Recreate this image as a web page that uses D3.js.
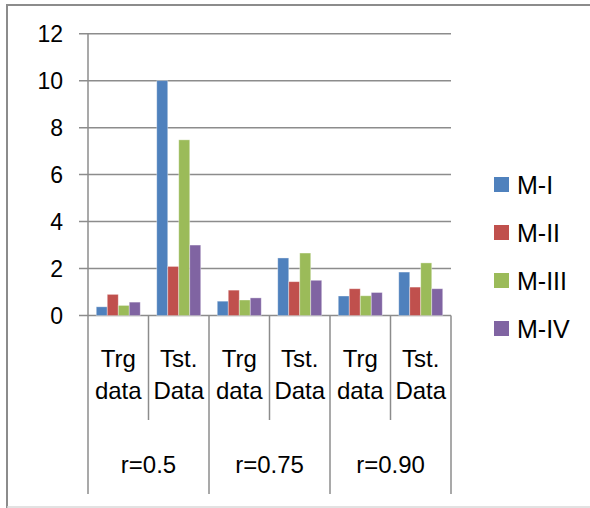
<!DOCTYPE html>
<html><head><meta charset="utf-8">
<script src="https://cdn.jsdelivr.net/npm/d3@7"></script>
<style>body{margin:0;background:#fff}svg{display:block}text{font-family:"Liberation Sans",Arial,sans-serif;fill:#000}</style>
</head><body><svg id="c" width="590" height="508"></svg>
<script>
const groups = ["r=0.5", "r=0.75", "r=0.90"];
const subs = ["Trg data", "Tst. Data"];
const series = ["M-I", "M-II", "M-III", "M-IV"];
const colors = ["#4F81BD", "#C0504D", "#9BBB59", "#8064A2"];
const mI   = [0.37, 10.0, 0.61, 2.45, 0.83, 1.85];
const mII  = [0.90, 2.09, 1.08, 1.44, 1.14, 1.21];
const mIII = [0.43, 7.48, 0.66, 2.66, 0.84, 2.24];
const mIV  = [0.57, 3.00, 0.75, 1.50, 0.98, 1.14];
const yTicks = [0, 2, 4, 6, 8, 10, 12];

(function () {
const values = [mI, mII, mIII, mIV];
const cats = [];
groups.forEach((g, gi) => subs.forEach((s, si) => cats.push({g, s, key: gi + "_" + si})));

const svg = d3.select("#c");
const pL = 88, pR = 451, pT = 33.7, pB = 315.5;
const x = d3.scaleBand().domain(cats.map(c => c.key)).range([pL, pR]).padding(0);
const xs = d3.scaleBand().domain(series).range([0, x.bandwidth()]).paddingInner(0).paddingOuter(0.75);
const y = d3.scaleLinear().domain([0, 12]).range([pB, pT]);
const gray = "#8c8c8c";

// outer border
svg.append("path").attr("d", "M7,508 L7,5 L590,5").attr("fill", "none").attr("stroke", gray).attr("stroke-width", 2);
svg.append("line").attr("x1", 7).attr("x2", 590).attr("y1", 507).attr("y2", 507).attr("stroke", "#d9d9d9").attr("stroke-width", 1.5);

// gridlines
svg.append("g").selectAll("line").data(yTicks).join("line")
  .attr("x1", pL - 9).attr("x2", pR).attr("y1", d => y(d)).attr("y2", d => y(d))
  .attr("stroke", gray).attr("stroke-width", 1.5);

// y axis
svg.append("line").attr("x1", pL).attr("x2", pL).attr("y1", pT).attr("y2", pB).attr("stroke", gray).attr("stroke-width", 1.5);
svg.append("g").selectAll("text").data(yTicks).join("text")
  .attr("x", 63).attr("y", d => y(d)).attr("dy", "0.35em").attr("text-anchor", "end")
  .style("font-size", "23px").text(d => d);

// bars
series.forEach((s, si) => {
  svg.append("g").selectAll("rect").data(cats).join("rect")
    .attr("x", (c) => x(c.key) + xs(s))
    .attr("width", xs.bandwidth())
    .attr("y", (c, i) => y(values[si][i]))
    .attr("height", (c, i) => pB - y(values[si][i]))
    .attr("fill", colors[si])
    .attr("stroke", "rgba(255,255,255,0.45)").attr("stroke-width", 0.8);
});

// category separators
const seps = d3.range(cats.length + 1);
svg.append("g").selectAll("line").data(seps).join("line")
  .attr("x1", i => pL + i * x.step()).attr("x2", i => pL + i * x.step())
  .attr("y1", pB).attr("y2", i => i % 2 === 0 ? 494 : 420)
  .attr("stroke", gray).attr("stroke-width", 1.5);

// sub labels
const sl = svg.append("g").selectAll("text").data(cats).join("text")
  .attr("text-anchor", "middle").style("font-size", "24px");
sl.each(function(c) {
  const parts = c.s.split(" ");
  const t = d3.select(this);
  parts.forEach((p, k) => t.append("tspan").attr("x", x(c.key) + x.bandwidth() / 2).attr("y", 367 + k * 32).text(p));
});

// group labels
svg.append("g").selectAll("text").data(groups).join("text")
  .attr("x", (g, gi) => pL + (gi * 2 + 1) * x.step()).attr("y", 473)
  .attr("text-anchor", "middle").style("font-size", "24px").text(g => g);

// legend
const lg = svg.append("g").selectAll("g").data(series).join("g")
  .attr("transform", (d, i) => `translate(494,${177 + i * 48})`);
lg.append("rect").attr("width", 15).attr("height", 15).attr("fill", (d, i) => colors[i]);
lg.append("text").attr("x", 23).attr("y", 7.5).attr("dy", "0.36em").style("font-size", "25px").text(d => d);
})();
</script></body></html>
